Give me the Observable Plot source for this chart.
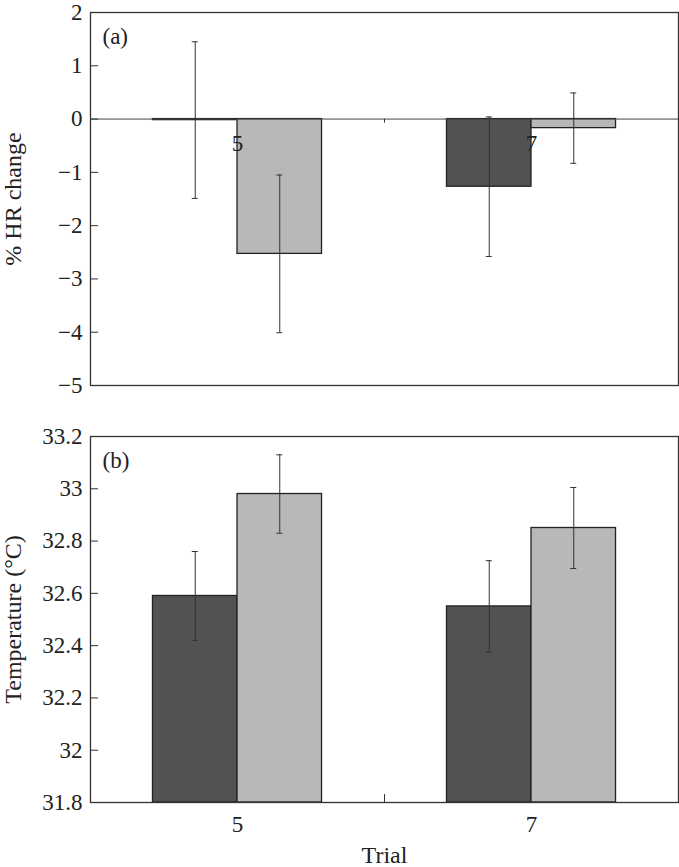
<!DOCTYPE html>
<html><head><meta charset="utf-8">
<script src="https://cdn.jsdelivr.net/npm/d3@7"></script>
<script src="https://cdn.jsdelivr.net/npm/@observablehq/plot@0.6"></script>
<style>
body{margin:0;background:#fff;}
#chart{width:679px;height:867px;position:relative;}
#chart svg{display:block;}
</style></head><body><div id="chart"></div>
<script>
// ---- data ----
const trials = [5, 7];
const groups = ["dark", "light"];
const hrDark = [-0.02, -1.27];
const hrDarkErr = [1.47, 1.31];
const hrLight = [-2.53, -0.17];
const hrLightErr = [1.48, 0.66];
const tempDark = [32.59, 32.55];
const tempDarkErr = [0.17, 0.175];
const tempLight = [32.98, 32.85];
const tempLightErr = [0.15, 0.155];
const hrTicks = [-5, -4, -3, -2, -1, 0, 1, 2];
const tempTicks = [31.8, 32, 32.2, 32.4, 32.6, 32.8, 33, 33.2];
const trialTicks = [5, 7];
const dividerTicks = [6];

// ---- styling ----
const FONT = "'Liberation Serif', 'Times New Roman', serif";
const FS = 23;   // tick labels
const LFS = 24;  // axis titles
const colors = ["#525252", "#b8b8b8"];
const BW = 0.575; // bar width in trial units
const W = 679, ML = 90, MR = 1;
const frameW = W - ML - MR;
const fmt = d => d < 0 ? "\u2212" + Math.abs(d) : String(d);

function rows(dark, darkErr, light, lightErr) {
  return trials.flatMap((t, i) => [
    {trial: t, group: groups[0], x1: t - BW, x2: t, value: dark[i], err: darkErr[i]},
    {trial: t, group: groups[1], x1: t, x2: t + BW, value: light[i], err: lightErr[i]}
  ]);
}
const hrData = rows(hrDark, hrDarkErr, hrLight, hrLightErr);
const tempData = rows(tempDark, tempDarkErr, tempLight, tempLightErr);
const xc = d => (d.x1 + d.x2) / 2;

function errMarks(data) {
  return [
    Plot.ruleX(data, {x: xc, y1: d => d.value - d.err, y2: d => d.value + d.err, stroke: "#333", strokeWidth: 1}),
    Plot.ruleY(data, {x1: xc, x2: xc, y: d => d.value + d.err, insetLeft: -3, insetRight: -3, stroke: "#333", strokeWidth: 1}),
    Plot.ruleY(data, {x1: xc, x2: xc, y: d => d.value - d.err, insetLeft: -3, insetRight: -3, stroke: "#333", strokeWidth: 1})
  ];
}

const style = {fontFamily: FONT, fontSize: FS + "px", color: "#222", background: "#fff", overflow: "visible"};

// ---- panel (a) ----
const hA = 400, mtA = 12, mbA = 15;
const a = Plot.plot({
  width: W, height: hA, marginLeft: ML, marginRight: MR, marginTop: mtA, marginBottom: mbA,
  style,
  x: {domain: [4, 8], axis: null},
  y: {domain: [-5, 2], axis: null},
  color: {domain: groups, range: colors},
  marks: [
    Plot.rectY(hrData, {x1: "x1", x2: "x2", y1: 0, y2: "value", fill: "group", stroke: "#222", strokeWidth: 1.3}),
    Plot.ruleY([0], {stroke: "#444", strokeWidth: 1}),
    ...errMarks(hrData),
    Plot.text(trialTicks, {x: d => d, y: () => 0, dy: 24.5, text: d => String(d), fontSize: FS, lineAnchor: "middle", fill: "#222"}),
    Plot.ruleX(dividerTicks, {x: d => d, y1: () => 0, y2: () => 0, insetBottom: -4, stroke: "#333"}),
    Plot.ruleY(hrTicks, {y: d => d, insetRight: frameW - 8, stroke: "#333"}),
    Plot.axisY({ticks: hrTicks, tickSize: 0, tickPadding: 8, tickFormat: fmt, label: null, fontSize: FS}),
    Plot.text(["(a)"], {frameAnchor: "top-left", dx: 12, dy: 24, textAnchor: "start", lineAnchor: "middle", fontSize: 23, fill: "#222"}),
    Plot.text(["% HR change"], {frameAnchor: "left", dx: -77, rotate: -90, textAnchor: "middle", lineAnchor: "middle", fontSize: LFS, fill: "#222"}),
    Plot.frame({stroke: "#333", strokeWidth: 1.3})
  ]
});

// ---- panel (b) ----
const hB = 467, mtB = 36, mbB = 65;
const frameHB = hB - mtB - mbB;
const tempDomain = [31.8, 33.2];
const b = Plot.plot({
  width: W, height: hB, marginLeft: ML, marginRight: MR, marginTop: mtB, marginBottom: mbB,
  style,
  x: {domain: [4, 8], axis: null},
  y: {domain: tempDomain, axis: null},
  color: {domain: groups, range: colors},
  marks: [
    Plot.rectY(tempData, {x1: "x1", x2: "x2", y1: () => tempDomain[0], y2: "value", fill: "group", stroke: "#222", strokeWidth: 1.3}),
    ...errMarks(tempData),
    Plot.ruleY(tempTicks, {y: d => d, insetRight: frameW - 8, stroke: "#333"}),
    Plot.ruleX(dividerTicks, {x: d => d, insetTop: frameHB - 8, stroke: "#333"}),
    Plot.axisY({ticks: tempTicks, tickSize: 0, tickPadding: 8, tickFormat: fmt, label: null, fontSize: FS}),
    Plot.axisX({ticks: trialTicks, tickSize: 0, tickPadding: 13, tickFormat: d => String(d), label: null, fontSize: FS}),
    Plot.text(["(b)"], {frameAnchor: "top-left", dx: 12, dy: 24, textAnchor: "start", lineAnchor: "middle", fontSize: 23, fill: "#222"}),
    Plot.text(["Temperature (\u00B0C)"], {frameAnchor: "left", dx: -77, rotate: -90, textAnchor: "middle", lineAnchor: "middle", fontSize: LFS, fill: "#222"}),
    Plot.text(["Trial"], {frameAnchor: "bottom", dy: 53, lineAnchor: "middle", fontSize: LFS, fill: "#222"}),
    Plot.frame({stroke: "#333", strokeWidth: 1.3})
  ]
});

const el = document.getElementById("chart");
el.appendChild(a);
el.appendChild(b);
</script>
</body></html>
